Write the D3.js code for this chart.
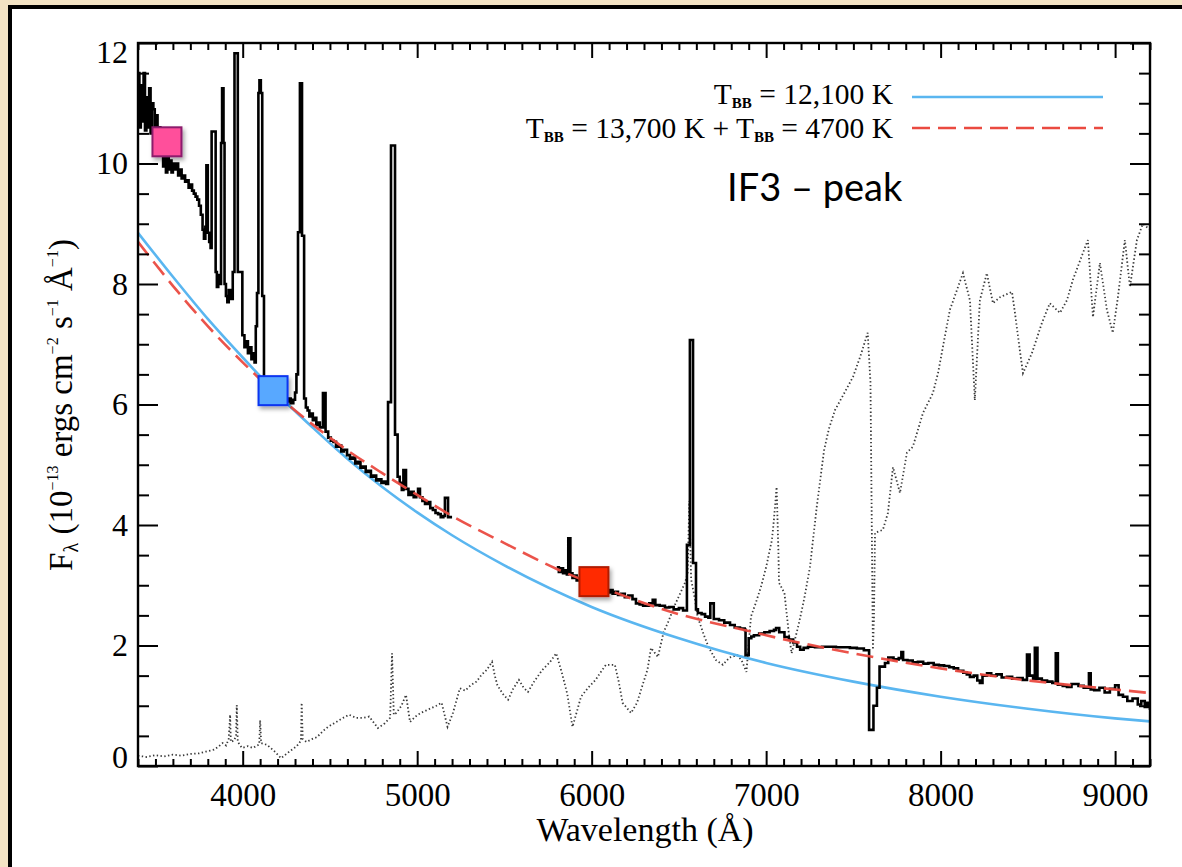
<!DOCTYPE html>
<html><head><meta charset="utf-8">
<script src="https://cdn.jsdelivr.net/npm/d3@7"></script>
<style>body{margin:0;background:#fff}svg{display:block}</style>
</head><body>
<svg id="c" width="1182" height="867"></svg>
<script>
// ---------------- data ----------------
const xMajorTicks = [4000, 5000, 6000, 7000, 8000, 9000];
const yMajorTicks = [0, 2, 4, 6, 8, 10, 12];
const legendLabels = ["12,100 K", "13,700 K", "4700 K"];
const annotation = "IF3 \u2013 peak";

// observed spectrum, blue arm  [wavelength (Å), flux]
const obsBlue = [
[3400,11.5],[3408,10.6],[3416,11.3],[3424,10.7],[3432,11.5],[3440,10.55],[3448,11.1],[3456,10.6],
[3464,11.25],[3472,10.5],[3480,11.0],[3488,10.9],[3496,10.6],[3504,10.8],[3512,10.4],[3520,10.6],
[3528,10.2],[3536,10.4],[3544,9.95],[3552,10.2],[3560,9.85],[3568,10.1],[3576,9.9],[3584,10.05],
[3592,9.85],[3600,10.0],[3610,9.9],[3620,10.0],[3630,9.8],[3640,9.9],[3650,9.75],[3660,9.8],
[3670,9.7],[3680,9.72],[3690,9.6],[3700,9.65],[3710,9.55],[3720,9.5],[3730,9.45],[3740,9.4],
[3750,9.3],[3760,9.15],[3770,8.9],[3778,8.75],[3786,8.95],[3792,9.97],[3800,8.85],[3808,8.7],
[3816,8.6],[3822,10.53],[3845,8.2],[3852,7.95],[3860,8.15],[3868,8.0],[3876,10.34],[3882,11.25],
[3890,10.34],[3896,8.0],[3904,7.8],[3912,7.7],[3920,7.9],[3930,7.75],[3943,8.2],[3953,11.83],
[3972,8.2],[3998,7.15],[4010,6.95],[4020,7.05],[4030,6.85],[4040,6.95],[4050,6.75],[4060,6.85],
[4068,6.7],[4075,7.3],[4082,7.85],[4090,11.17],[4096,11.38],[4104,11.17],[4112,7.8],[4122,6.45],
[4140,6.3],[4160,6.2],[4180,6.25],[4200,6.1],[4220,6.15],[4240,6.05],[4260,6.1],[4275,6.02],
[4290,6.08],[4300,6.2],[4308,6.5],[4317,8.86],[4328,11.33],[4340,8.8],[4352,6.1],[4362,5.95],
[4372,5.9],[4382,5.8],[4392,5.85],[4402,5.74],[4412,5.78],[4422,5.66],[4432,5.7],[4442,5.62],
[4460,6.19],[4475,5.55],[4490,5.45],[4505,5.4],[4520,5.38],[4535,5.3],[4550,5.32],[4565,5.22],
[4580,5.25],[4598,5.16],[4615,5.1],[4630,5.12],[4645,5.02],[4660,5.05],[4675,4.95],[4690,4.97],
[4705,4.88],[4720,4.9],[4735,4.8],[4750,4.82],[4765,4.74],[4780,4.76],[4795,4.7],[4810,4.72],
[4822,4.68],[4833,6.04],[4850,10.3],[4873,5.5],[4888,4.8],[4900,4.7],[4912,4.58],[4921,4.91],
[4936,4.6],[4950,4.5],[4965,4.55],[4980,4.46],[4995,4.5],[5005,4.6],[5016,4.46],[5030,4.4],
[5045,4.35],[5060,4.38],[5075,4.28],[5090,4.25],[5105,4.2],[5120,4.18],[5135,4.13],[5150,4.15],
[5159,4.45],[5177,4.13],[5200,4.13]
];

// observed spectrum, red arm
const obsRed = [
[5800,3.3],[5812,3.22],[5824,3.28],[5836,3.2],[5848,3.25],[5858,3.18],[5866,3.78],[5878,3.2],
[5890,3.12],[5902,3.16],[5914,3.08],[5926,3.12],[5940,3.05],[5955,3.08],[5970,3.0],[5985,3.04],
[6000,2.97],[6015,3.0],[6030,2.94],[6045,2.97],[6060,2.9],[6075,2.93],[6090,2.88],[6105,2.92],
[6120,2.86],[6135,2.89],[6151,2.84],[6170,2.86],[6190,2.8],[6210,2.83],[6234,2.77],[6254,2.7],
[6275,2.68],[6295,2.66],[6330,2.7],[6350,2.76],[6365,2.67],[6390,2.66],[6420,2.63],[6445,2.64],
[6470,2.6],[6500,2.62],[6524,2.58],[6546,3.67],[6563,7.07],[6581,3.37],[6598,2.6],[6609,2.54],
[6630,2.52],[6650,2.48],[6669,2.46],[6680,2.7],[6700,2.44],[6730,2.42],[6760,2.38],[6793,2.34],
[6820,2.3],[6850,2.28],[6877,2.26],[6882,1.84],[6900,2.12],[6915,2.15],[6930,2.17],[6960,2.2],
[6990,2.22],[7020,2.24],[7045,2.26],[7057,2.29],[7075,2.22],[7105,2.14],[7130,2.1],[7155,2.05],
[7177,1.98],[7195,1.93],[7215,1.96],[7240,1.98],[7280,1.97],[7320,1.98],[7360,1.98],[7400,1.97],
[7440,1.97],[7480,1.96],[7520,1.95],[7560,1.92],[7590,0.6],[7615,1.0],[7635,1.3],[7650,1.65],
[7681,1.71],[7700,1.8],[7730,1.77],[7760,1.79],[7775,1.89],[7785,1.76],[7810,1.75],[7840,1.72],
[7870,1.73],[7900,1.7],[7930,1.71],[7960,1.68],[7990,1.67],[8020,1.66],[8050,1.64],[8075,1.62],
[8100,1.58],[8130,1.55],[8150,1.52],[8168,1.48],[8190,1.5],[8210,1.42],[8225,1.38],[8240,1.5],
[8266,1.54],[8290,1.5],[8320,1.52],[8350,1.47],[8380,1.48],[8410,1.45],[8440,1.46],[8470,1.43],
[8495,1.85],[8510,1.5],[8530,1.45],[8540,1.96],[8555,1.45],[8580,1.42],[8610,1.4],[8640,1.38],
[8660,1.87],[8672,1.35],[8700,1.33],[8724,1.31],[8750,1.36],[8790,1.33],[8820,1.3],[8850,1.54],
[8860,1.27],[8880,1.26],[8910,1.3],[8940,1.22],[8970,1.28],[9000,1.34],[9020,1.18],[9045,1.15],
[9070,1.08],[9100,1.12],[9130,1.02],[9150,1.08],[9170,0.98],[9185,1.05],[9200,0.93]
];

// comparison (dotted) spectrum
const comparison = [
[3400,0.17],[3450,0.15],[3500,0.18],[3550,0.16],[3600,0.19],[3650,0.17],[3700,0.2],[3750,0.21],
[3790,0.24],[3834,0.27],[3860,0.32],[3885,0.38],[3905,0.34],[3920,0.45],[3928,0.85],[3932,0.4],
[3950,0.42],[3962,0.5],[3966,1.01],[3972,0.4],[3996,0.3],[4030,0.33],[4059,0.3],[4095,0.36],
[4100,0.76],[4106,0.38],[4140,0.35],[4180,0.25],[4220,0.13],[4250,0.2],[4282,0.27],[4310,0.33],
[4334,0.42],[4338,1.05],[4344,0.45],[4365,0.4],[4400,0.45],[4426,0.48],[4460,0.58],[4489,0.65],
[4530,0.72],[4570,0.79],[4610,0.85],[4650,0.8],[4693,0.8],[4725,0.82],[4775,0.63],[4815,0.71],
[4845,0.8],[4856,1.87],[4866,0.85],[4880,0.88],[4910,1.0],[4936,1.18],[4959,0.73],[4990,0.82],
[5020,0.88],[5050,0.92],[5080,0.96],[5110,1.0],[5140,1.05],[5174,0.65],[5205,0.88],[5245,1.29],
[5275,1.25],[5307,1.34],[5340,1.4],[5368,1.51],[5400,1.6],[5429,1.73],[5445,1.5],[5460,1.34],
[5490,1.2],[5521,1.1],[5550,1.28],[5583,1.43],[5610,1.3],[5635,1.23],[5670,1.4],[5716,1.59],
[5760,1.72],[5797,1.87],[5830,1.54],[5860,1.2],[5890,0.65],[5915,0.9],[5939,1.15],[5980,1.3],
[6023,1.43],[6050,1.55],[6082,1.68],[6133,1.68],[6155,1.4],[6177,1.05],[6226,0.88],[6260,1.05],
[6288,1.31],[6320,1.6],[6340,1.96],[6380,1.81],[6412,2.22],[6440,2.4],[6472,2.64],[6505,2.85],
[6535,3.04],[6550,3.2],[6560,4.4],[6570,3.1],[6590,2.8],[6607,2.48],[6640,2.2],[6669,1.98],
[6711,1.76],[6752,1.68],[6790,1.8],[6835,1.84],[6860,1.75],[6887,1.56],[6913,2.48],[6940,2.7],
[6970,2.97],[7000,3.3],[7033,3.75],[7045,4.1],[7060,4.63],[7070,3.6],[7074,3.04],[7105,2.87],
[7130,2.2],[7146,1.87],[7188,2.37],[7220,2.8],[7251,3.3],[7290,4.3],[7332,5.24],[7360,5.6],
[7395,5.91],[7450,6.2],[7498,6.46],[7540,6.8],[7582,7.19],[7598,6.36],[7612,1.93],[7618,2.47],
[7624,3.87],[7669,3.92],[7698,4.2],[7727,4.96],[7767,4.53],[7807,5.2],[7841,5.3],[7899,5.86],
[7956,6.19],[7985,6.52],[8053,7.57],[8128,8.18],[8168,7.73],[8196,6.07],[8225,7.73],[8265,8.18],
[8300,7.68],[8340,7.78],[8409,7.87],[8426,7.52],[8454,6.9],[8472,6.52],[8523,6.85],[8580,7.35],
[8626,7.68],[8684,7.52],[8724,7.73],[8758,8.07],[8815,8.51],[8844,8.73],[8873,7.45],[8913,8.35],
[8953,7.57],[8987,7.19],[9016,7.78],[9056,8.73],[9085,7.95],[9125,8.73],[9159,9.0],[9200,8.9]
];

// single blackbody fit (T = 12,100 K)
const bbSingle = [
[3400,8.85],[3600,8.12],[3800,7.42],[4000,6.78],[4200,6.17],[4400,5.62],[4600,5.1],[4800,4.63],
[5000,4.21],[5200,3.83],[5500,3.33],[6000,2.64],[6500,2.12],[7000,1.71],[7500,1.4],[8000,1.15],
[8500,0.95],[9000,0.79],[9200,0.74]
];
// two-blackbody fit (13,700 K + 4700 K)
const bbDouble = [
[3400,8.7],[3600,7.97],[3800,7.3],[4000,6.7],[4200,6.15],[4400,5.67],[4600,5.24],[4800,4.86],
[5000,4.5],[5200,4.15],[5500,3.7],[5800,3.27],[6000,3.03],[6500,2.52],[6900,2.24],[7000,2.17],
[7500,1.87],[8000,1.62],[8500,1.42],[9000,1.27],[9200,1.21]
];

// photometry markers
const photWave = [3566, 4174, 6013];
const photFlux = [10.36, 6.23, 3.06];
const photFill = ["#ff4f9b", "#58a8ff", "#ff2a00"];
const photStroke = ["#8c1d6c", "#0a35f0", "#b01a00"];

// ---------------- drawing ----------------
const W = 1182, H = 867;
const L = 138, R = 1150, T = 43, B = 766;
const serif = "'Liberation Serif','Times New Roman',serif";
const svg = d3.select("#c");

const defs = svg.append("defs");
defs.append("clipPath").attr("id", "plotclip").append("rect")
  .attr("x", L).attr("y", T).attr("width", R - L).attr("height", B - T);
const sh = defs.append("filter").attr("id", "shadow").attr("x", "-30%").attr("y", "-30%").attr("width", "170%").attr("height", "170%");
sh.append("feDropShadow").attr("dx", 2).attr("dy", 3).attr("stdDeviation", 2).attr("flood-color", "#000").attr("flood-opacity", 0.35);

// outer frame
svg.append("rect").attr("x", 0).attr("y", 0).attr("width", W).attr("height", H).attr("fill", "#f3e3c4");
svg.append("rect").attr("x", 10).attr("y", 7).attr("width", W + 20).attr("height", H + 20)
  .attr("fill", "#fff").attr("stroke", "#000").attr("stroke-width", 4);

const x = d3.scaleLinear().domain([3400, 9200]).range([L, R]);
const y = d3.scaleLinear().domain([0, 12]).range([B, T]);

const plot = svg.append("g").attr("clip-path", "url(#plotclip)");

// comparison dotted spectrum
plot.append("path").datum(comparison)
  .attr("d", d3.line().x(d => x(d[0])).y(d => y(d[1])))
  .attr("fill", "none").attr("stroke", "#3a3a3a").attr("stroke-width", 1.8)
  .attr("stroke-dasharray", "1.4 2.4");

// blackbody fit (single)
plot.append("path").datum(bbSingle)
  .attr("d", d3.line().x(d => x(d[0])).y(d => y(d[1])).curve(d3.curveMonotoneX))
  .attr("fill", "none").attr("stroke", "#5ab6f0").attr("stroke-width", 2.6);

// observed spectrum (histogram style)
const stepLine = d3.line().x(d => x(d[0])).y(d => y(d[1])).curve(d3.curveStepAfter);
[obsBlue, obsRed].forEach(s => {
  plot.append("path").datum(s).attr("d", stepLine)
    .attr("fill", "none").attr("stroke", "#000").attr("stroke-width", 2.6)
    .attr("stroke-linejoin", "miter");
});

// blackbody fit (double)
plot.append("path").datum(bbDouble)
  .attr("d", d3.line().x(d => x(d[0])).y(d => y(d[1])).curve(d3.curveMonotoneX))
  .attr("fill", "none").attr("stroke", "#ea4a40").attr("stroke-width", 2.6)
  .attr("stroke-dasharray", "17 8").attr("opacity", 0.95);

// axes
function styleAxis(g) {
  g.select(".domain").remove();
  g.selectAll(".tick line").attr("stroke", "#000").attr("stroke-width", 2);
  g.selectAll("text").attr("font-family", serif).attr("font-size", 32).attr("fill", "#000");
}
const xMinor = d3.range(3400, 9201, 100).filter(v => v % 1000 !== 0);
const yMinor = d3.range(0, 12.01, 0.5).filter(v => v % 2 !== 0);

svg.append("g").attr("transform", `translate(0,${B})`)
  .call(d3.axisBottom(x).tickValues(xMinor).tickSize(-7).tickFormat("")).call(styleAxis);
const xl = svg.append("g").attr("transform", `translate(0,${B})`)
  .call(d3.axisBottom(x).tickValues(xMajorTicks).tickSize(-15).tickPadding(17).tickFormat(d3.format("d"))).call(styleAxis);
xl.selectAll(".tick text").attr("font-size", 33);
svg.append("g").attr("transform", `translate(0,${T})`)
  .call(d3.axisTop(x).tickValues(xMinor).tickSize(-7).tickFormat("")).call(styleAxis);
svg.append("g").attr("transform", `translate(0,${T})`)
  .call(d3.axisTop(x).tickValues(xMajorTicks).tickSize(-15).tickFormat("")).call(styleAxis);

svg.append("g").attr("transform", `translate(${L},0)`)
  .call(d3.axisLeft(y).tickValues(yMinor).tickSize(-11).tickFormat("")).call(styleAxis);
const yl = svg.append("g").attr("transform", `translate(${L},0)`)
  .call(d3.axisLeft(y).tickValues(yMajorTicks).tickSize(-20).tickPadding(10).tickFormat(d3.format("d"))).call(styleAxis);
yl.selectAll(".tick text").attr("y", d => d === 0 ? -9 : (d === 12 ? 9 : 0));
svg.append("g").attr("transform", `translate(${R},0)`)
  .call(d3.axisRight(y).tickValues(yMinor).tickSize(-11).tickFormat("")).call(styleAxis);
svg.append("g").attr("transform", `translate(${R},0)`)
  .call(d3.axisRight(y).tickValues(yMajorTicks).tickSize(-20).tickFormat("")).call(styleAxis);

svg.append("rect").attr("x", L).attr("y", T).attr("width", R - L).attr("height", B - T)
  .attr("fill", "none").attr("stroke", "#000").attr("stroke-width", 2.4);

// photometry squares
const sq = 29;
svg.append("g").selectAll("rect").data(photWave).join("rect")
  .attr("x", (d, i) => x(d) - sq / 2).attr("y", (d, i) => y(photFlux[i]) - sq / 2)
  .attr("width", sq).attr("height", sq)
  .attr("fill", (d, i) => photFill[i]).attr("stroke", (d, i) => photStroke[i]).attr("stroke-width", 2)
  .attr("filter", "url(#shadow)");

// axis titles
svg.append("text").attr("x", 645).attr("y", 841).attr("text-anchor", "middle")
  .attr("font-family", serif).attr("font-size", 34).text("Wavelength (\u00c5)");

const yt = svg.append("text").attr("transform", "translate(72,405) rotate(-90)")
  .attr("text-anchor", "middle").attr("font-family", serif).attr("font-size", 33);
yt.append("tspan").text("F");
yt.append("tspan").attr("font-size", 20).attr("dy", 6).text("\u03bb");
yt.append("tspan").attr("dy", -6).text(" (10");
yt.append("tspan").attr("font-size", 16).attr("dy", -14).text("\u221213");
yt.append("tspan").attr("dy", 14).text(" ergs cm");
yt.append("tspan").attr("font-size", 16).attr("dy", -14).text("\u22122");
yt.append("tspan").attr("dy", 14).text(" s");
yt.append("tspan").attr("font-size", 16).attr("dy", -14).text("\u22121");
yt.append("tspan").attr("dy", 14).text(" \u00c5");
yt.append("tspan").attr("font-size", 16).attr("dy", -14).text("\u22121");
yt.append("tspan").attr("dy", 14).text(")");

// legend
function tbb(t) {
  t.append("tspan").text("T");
  t.append("tspan").attr("font-size", 15).attr("font-weight", "bold").attr("dy", 4).text("BB");
  t.append("tspan").attr("dy", -4).text(" = ");
}
const lg1 = svg.append("text").attr("x", 893).attr("y", 104).attr("text-anchor", "end")
  .attr("font-family", serif).attr("font-size", 29.5);
tbb(lg1); lg1.append("tspan").text(legendLabels[0]);
const lg2 = svg.append("text").attr("x", 893).attr("y", 137.5).attr("text-anchor", "end")
  .attr("font-family", serif).attr("font-size", 29.5);
tbb(lg2); lg2.append("tspan").text(legendLabels[1] + " + ");
tbb(lg2); lg2.append("tspan").text(legendLabels[2]);

svg.append("line").attr("x1", 912).attr("x2", 1103).attr("y1", 97).attr("y2", 97)
  .attr("stroke", "#5ab6f0").attr("stroke-width", 2.6);
svg.append("line").attr("x1", 912).attr("x2", 1103).attr("y1", 128).attr("y2", 128)
  .attr("stroke", "#ea4a40").attr("stroke-width", 2.6).attr("stroke-dasharray", "18 8");

// annotation
svg.append("text").attr("x", 727).attr("y", 201).attr("font-family", "Lato, 'Open Sans', sans-serif")
  .attr("font-size", 38).attr("fill", "#000").text(annotation);
</script>
</body></html>
